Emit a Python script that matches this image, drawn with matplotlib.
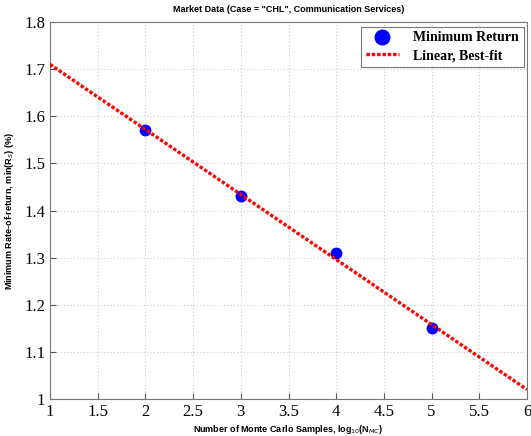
import matplotlib
matplotlib.use("Agg")
import matplotlib.pyplot as plt
import numpy as np

# data
log_nmc = [2, 3, 4, 5]
min_return = [1.57, 1.43, 1.31, 1.15]
x_ticks = [1, 1.5, 2, 2.5, 3, 3.5, 4, 4.5, 5, 5.5, 6]
y_ticks = [1, 1.1, 1.2, 1.3, 1.4, 1.5, 1.6, 1.7, 1.8]

fig = plt.figure(figsize=(5.31, 4.36), dpi=100)
ax = fig.add_axes([50 / 531, 1 - 399 / 436, 477 / 531, 377 / 436])

coef = np.polyfit(log_nmc, min_return, 1)
xfit = np.array([1, 6])
ax.plot(log_nmc, min_return, 'o', color='blue', markersize=7.5, label='Minimum Return', zorder=3)
ax.plot(xfit, np.polyval(coef, xfit), color='red', linestyle=(0, (1, 0.6)), linewidth=2.4,
        label='Linear, Best-fit', zorder=4)

ax.set_xlim(1, 6)
ax.set_ylim(1, 1.8)
ax.set_xticks(x_ticks)
ax.set_xticklabels([f"{t:g}" for t in x_ticks])
ax.set_yticks(y_ticks)
ax.set_yticklabels([f"{t:g}" for t in y_ticks])
ax.tick_params(direction='in', length=4, color='#555555', labelsize=12)
for lab in ax.get_xticklabels() + ax.get_yticklabels():
    lab.set_family('Liberation Serif')
ax.grid(True, linestyle=(0, (1, 2)), color='#cccccc', linewidth=0.8)
for s in ax.spines.values():
    s.set_color('#777777')

ax.set_title('Market Data (Case = "CHL", Communication Services)', fontsize=6.5,
             fontweight='bold', family='Liberation Sans', pad=7)
ax.set_xlabel(r'Number of Monte Carlo Samples, log$_{10}$(N$_{MC}$)', fontsize=6.5,
              fontweight='bold', family='Liberation Sans', labelpad=2)
ax.set_ylabel(r'Minimum Rate-of-return, min(R$_S$) (%)', fontsize=6.5,
              fontweight='bold', family='Liberation Sans', labelpad=6)

leg = fig.legend(loc='upper right', bbox_to_anchor=(0.999, 0.955), fancybox=False,
                 framealpha=1, edgecolor='#777777', markerscale=1.4,
                 prop={'family': 'Liberation Serif', 'weight': 'bold', 'size': 10},
                 handlelength=2.4, handletextpad=1.0, borderpad=0.35, labelspacing=0.35)
leg.get_frame().set_linewidth(0.8)

fig.savefig('out.png', dpi=100)
